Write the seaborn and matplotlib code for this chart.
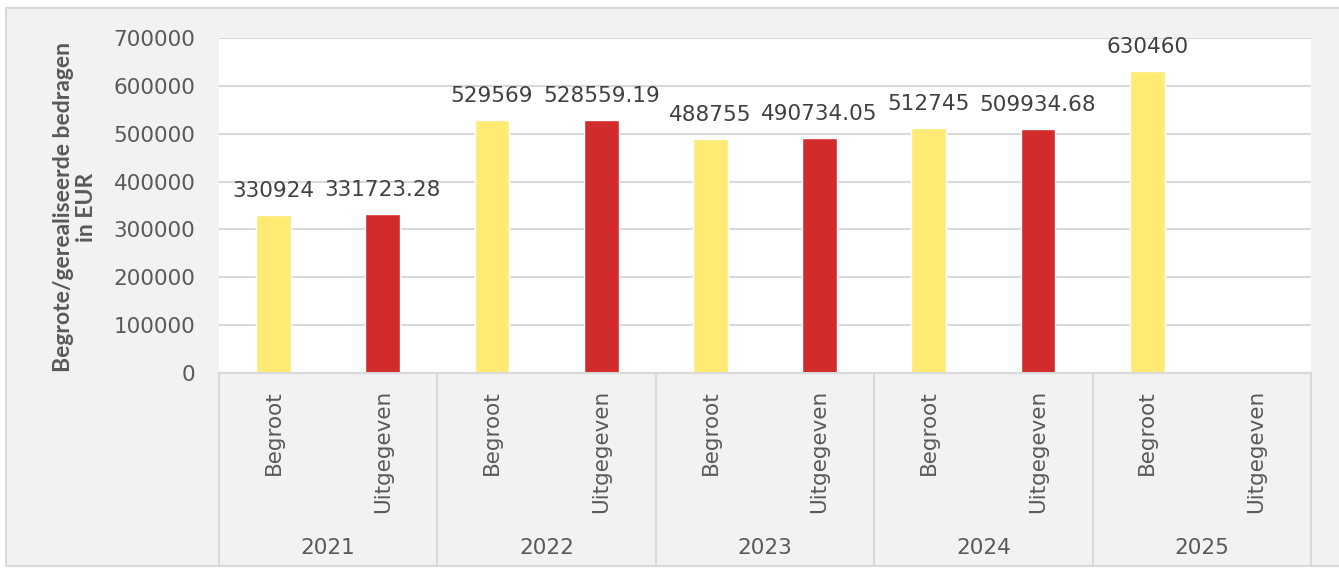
import pandas as pd
import numpy as np
import matplotlib
matplotlib.use('Agg')
import matplotlib.pyplot as plt
import matplotlib.transforms as mtransforms
from matplotlib.patches import Rectangle
from matplotlib.lines import Line2D
import seaborn as sns

# Data
years = ['2021', '2022', '2023', '2024', '2025']
types = ['Begroot', 'Uitgegeven']
begroot = [330924, 529569, 488755, 512745, 630460]
uitgegeven = [331723.28, 528559.19, 490734.05, 509934.68, np.nan]
value_labels_b = ['330924', '529569', '488755', '512745', '630460']
value_labels_u = ['331723.28', '528559.19', '490734.05', '509934.68', '']

rows = []
for i, y in enumerate(years):
    rows.append({'key': y + ' Begroot', 'year': y, 'type': 'Begroot', 'value': begroot[i], 'label': value_labels_b[i]})
    rows.append({'key': y + ' Uitgegeven', 'year': y, 'type': 'Uitgegeven', 'value': uitgegeven[i], 'label': value_labels_u[i]})
df = pd.DataFrame(rows)

sns.set_style('white')
plt.rcParams['font.family'] = ['DejaVu Sans']

W, H = 1339, 572
fig = plt.figure(figsize=(W / 100, H / 100), dpi=100, facecolor='white')

# chart area background with border
bg = Rectangle((6 / W, 1 - 566 / H), 1.0, (566 - 8) / H, transform=fig.transFigure,
               facecolor='#f2f2f2', edgecolor='#d9d9d9', linewidth=1.5, zorder=-10)
fig.add_artist(bg)

ax = fig.add_axes([219 / W, 1 - 373 / H, (1311 - 219) / W, (373 - 38) / H])
ax.set_facecolor('white')

palette = {'Begroot': '#ffeb73', 'Uitgegeven': '#d12b2b'}
sns.barplot(data=df, x='key', y='value', hue='type', order=df['key'].tolist(),
            palette=palette, dodge=False, width=0.32, legend=False, ax=ax, saturation=1)

fs = 15.5
ax.set_ylim(0, 700000)
ax.set_xlim(-0.5, len(df) - 0.5)
ax.set_yticks(range(0, 700001, 100000))
ax.set_yticklabels([str(v) for v in range(0, 700001, 100000)], fontsize=fs, color='#595959')
ax.tick_params(axis='y', length=0, pad=17)
ax.grid(axis='y', color='#d9d9d9', linewidth=1.5)
ax.set_axisbelow(True)
for s in ax.spines.values():
    s.set_visible(False)
ax.set_xticks([])
ax.set_xlabel('')
ax.set_ylabel('')

# value labels
for i, r in df.iterrows():
    if r['label']:
        ax.annotate(r['label'], (i, r['value']), xytext=(0, 13), textcoords='offset points',
                    ha='center', va='baseline', fontsize=fs, color='#404040')

# multi-level category axis
trans = mtransforms.blended_transform_factory(ax.transData, ax.transAxes)
for i, r in df.iterrows():
    ax.text(i, -17 / 335, r['type'], transform=trans, rotation=90, ha='center', va='top',
            fontsize=fs, color='#595959')
for g, y in enumerate(years):
    ax.text(2 * g + 0.5, -175 / 335, y, transform=trans, ha='center', va='center',
            fontsize=fs, color='#595959')
for b in np.arange(-0.5, len(df), 2):
    ax.add_line(Line2D([b, b], [0, -192 / 335], transform=trans, color='#d9d9d9',
                       linewidth=1.5, clip_on=False))
ax.add_line(Line2D([-0.5, len(df) - 0.5], [0, 0], transform=trans, color='#d9d9d9',
                   linewidth=1.5, clip_on=False))

fig.text(75 / W, 1 - 207 / H, 'Begrote/gerealiseerde bedragen\nin EUR', rotation=90,
         ha='center', va='center', multialignment='center', fontsize=16.5, fontweight='bold',
         color='#595959', linespacing=1.1, family=['Lato', 'DejaVu Sans'])

fig.savefig('out.png', dpi=100, facecolor='white')
